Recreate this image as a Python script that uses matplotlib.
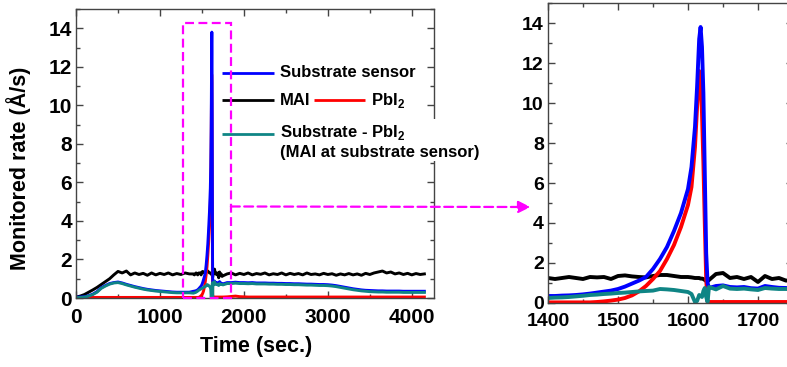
"""Deposition monitor: full run plus a zoom on the PbI2 burst."""
import matplotlib
matplotlib.use("Agg")
import matplotlib.pyplot as plt
import numpy as np
from matplotlib.patches import Rectangle, ConnectionPatch
from matplotlib.ticker import MultipleLocator

plt.rcParams["font.family"] = ["Liberation Sans", "DejaVu Sans"]
plt.rcParams["font.weight"] = "bold"
plt.rcParams["mathtext.fontset"] = "custom"
plt.rcParams["mathtext.rm"] = "Liberation Sans:bold"

BLUE, BLACK, RED, TEAL, MAG = "#0000ff", "#000000", "#ff0000", "#0f8585", "#ff00ff"

# ---- full run, before and after the burst window (50 s sampling)
T_EARLY = np.arange(0, 1351, 50)
T_LATE = np.arange(1800, 4151, 50)

MAI_EARLY = [0.05, 0.1, 0.18, 0.3, 0.42, 0.55, 0.7, 0.85, 1.0, 1.2, 1.38, 1.3, 1.4, 1.2,
             1.3, 1.22, 1.28, 1.18, 1.3, 1.2, 1.28, 1.22, 1.3, 1.2, 1.27, 1.22, 1.3, 1.25]
MAI_LATE = [1.25, 1.3, 1.2, 1.28, 1.22, 1.3, 1.2, 1.27, 1.23, 1.3, 1.2, 1.26, 1.22, 1.3,
            1.2, 1.28, 1.22, 1.27, 1.2, 1.3, 1.22, 1.25, 1.2, 1.28, 1.22, 1.26, 1.18, 1.25,
            1.2, 1.27, 1.2, 1.25, 1.18, 1.28, 1.22, 1.3, 1.35, 1.4, 1.3, 1.35, 1.25, 1.3,
            1.22, 1.28, 1.2, 1.27, 1.22, 1.25]
SUB_EARLY = [0.05, 0.05, 0.07, 0.12, 0.2, 0.33, 0.53, 0.65, 0.75, 0.8, 0.83, 0.78, 0.71,
             0.65, 0.59, 0.54, 0.49, 0.45, 0.42, 0.39, 0.37, 0.35, 0.33, 0.31, 0.3, 0.3,
             0.3, 0.3]
SUB_LATE = [0.8, 0.8, 0.82, 0.8, 0.8, 0.79, 0.8, 0.78, 0.78, 0.78, 0.77, 0.77, 0.76, 0.76,
            0.75, 0.75, 0.74, 0.74, 0.73, 0.72, 0.72, 0.71, 0.7, 0.7, 0.69, 0.67, 0.64,
            0.6, 0.56, 0.52, 0.48, 0.45, 0.42, 0.4, 0.39, 0.38, 0.37, 0.37, 0.36, 0.36,
            0.36, 0.36, 0.35, 0.35, 0.35, 0.35, 0.35, 0.35]
DIFF_EARLY = [0.02, 0.03, 0.05, 0.1, 0.18, 0.3, 0.5, 0.62, 0.72, 0.78, 0.8, 0.75, 0.68,
              0.62, 0.56, 0.51, 0.46, 0.42, 0.39, 0.36, 0.34, 0.32, 0.3, 0.28, 0.27, 0.27,
              0.27, 0.27]
DIFF_LATE = [0.75, 0.75, 0.77, 0.75, 0.75, 0.74, 0.75, 0.73, 0.73, 0.73, 0.72, 0.72, 0.71,
             0.71, 0.7, 0.7, 0.69, 0.69, 0.68, 0.67, 0.67, 0.66, 0.65, 0.65, 0.64, 0.62,
             0.59, 0.55, 0.51, 0.47, 0.43, 0.4, 0.37, 0.35, 0.33, 0.32, 0.31, 0.31, 0.3,
             0.3, 0.3, 0.3, 0.29, 0.29, 0.29, 0.29, 0.29, 0.29]
PBI_EARLY = [0.0, 0.01, 0.02, 0.03, 0.03, 0.03, 0.03, 0.03, 0.03, 0.03, 0.03, 0.03, 0.03,
             0.03, 0.03, 0.03, 0.03, 0.03, 0.03, 0.03, 0.03, 0.03, 0.03, 0.03, 0.03, 0.03,
             0.03, 0.03]
PBI_LATE = [0.06, 0.08, 0.1, 0.07, 0.06, 0.05, 0.05, 0.05, 0.05, 0.05, 0.05, 0.05, 0.05,
            0.05, 0.05, 0.05, 0.05, 0.05, 0.05, 0.05, 0.05, 0.05, 0.05, 0.05, 0.05, 0.05,
            0.05, 0.05, 0.05, 0.05, 0.05, 0.05, 0.05, 0.05, 0.05, 0.05, 0.05, 0.05, 0.05,
            0.05, 0.05, 0.05, 0.05, 0.05, 0.05, 0.05, 0.05, 0.05]

# ---- burst window 1400-1750 s (finer sampling round the peak)
T_ZOOM = [1400, 1410, 1420, 1430, 1440, 1450, 1460, 1470, 1480, 1490, 1500, 1510, 1520,
          1530, 1540, 1550, 1560, 1570, 1580, 1590, 1600, 1605, 1610, 1613, 1616, 1618,
          1620, 1622, 1624, 1626, 1628, 1630, 1640, 1650, 1660, 1670, 1680, 1690, 1700,
          1710, 1720, 1730, 1740, 1750]
SUB_ZOOM = [0.35, 0.35, 0.37, 0.38, 0.4, 0.43, 0.47, 0.52, 0.57, 0.62, 0.7, 0.82, 0.97,
            1.12, 1.3, 1.7, 2.2, 2.8, 3.6, 4.5, 5.7, 6.8, 8.8, 10.8, 13.2, 13.8, 12.8, 10.5,
            6.5, 2.5, 1.0, 0.75, 0.85, 0.88, 0.8, 0.78, 0.8, 0.74, 0.72, 0.85, 0.8, 0.76,
            0.75, 0.73]
PBI_ZOOM = [0.03, 0.03, 0.03, 0.03, 0.03, 0.03, 0.03, 0.05, 0.08, 0.12, 0.17, 0.25, 0.38,
            0.58, 0.85, 1.2, 1.6, 2.2, 2.9, 3.8, 4.9, 5.8, 7.8, 9.8, 11.6, 11.2, 9.5, 7.0,
            4.0, 1.2, 0.05, 0.05, 0.05, 0.05, 0.05, 0.05, 0.05, 0.05, 0.05, 0.05, 0.05,
            0.05, 0.05, 0.05]
DIFF_ZOOM = [0.25, 0.27, 0.28, 0.3, 0.33, 0.36, 0.4, 0.42, 0.45, 0.47, 0.5, 0.52, 0.55,
             0.58, 0.6, 0.62, 0.7, 0.68, 0.65, 0.6, 0.55, 0.45, 0.05, 0.1, 0.4, 0.35, 0.3,
             0.6, 0.75, 0.3, 0.05, 0.8, 0.68, 0.85, 0.72, 0.7, 0.72, 0.68, 0.65, 0.75, 0.72,
             0.7, 0.7, 0.68]
MAI_ZOOM = [1.25, 1.2, 1.25, 1.3, 1.25, 1.2, 1.3, 1.28, 1.3, 1.2, 1.35, 1.38, 1.33, 1.3,
            1.28, 1.35, 1.4, 1.4, 1.35, 1.3, 1.3, 1.28, 1.25, 1.25, 1.25, 1.22, 1.22, 1.2,
            1.15, 1.1, 1.08, 1.15, 1.45, 1.5, 1.25, 1.3, 1.2, 1.3, 1.05, 1.35, 1.2, 1.25,
            1.12, 1.15]

WINDOW = (1274, 1845, 14.27)   # highlighted region on the full-run panel


def full(early, zoom, late):
    return np.concatenate([early, zoom, late])


def style(ax, xmaj, xmin, size):
    ax.set_ylim(0, 15)
    ax.yaxis.set_major_locator(MultipleLocator(2))
    ax.yaxis.set_minor_locator(MultipleLocator(1))
    ax.xaxis.set_major_locator(MultipleLocator(xmaj))
    ax.xaxis.set_minor_locator(MultipleLocator(xmin))
    ax.tick_params(which="both", direction="in", top=True, right=True,
                   labelsize=size, width=1, color="#444444")
    ax.tick_params(which="major", length=5)
    ax.tick_params(which="minor", length=3)
    ax.tick_params(axis="x", pad=7)
    ax.tick_params(axis="y", pad=3)
    for s in ax.spines.values():
        s.set_color("#444444")
        s.set_linewidth(1)
    for lb in ax.get_xticklabels() + ax.get_yticklabels():
        lb.set_fontweight("bold")


fig = plt.figure(figsize=(7.87, 3.67), dpi=100)
ax1 = fig.add_axes([0.0966, 0.188, 0.4549, 0.7875])
ax2 = fig.add_axes([0.6963, 0.1744, 0.3113, 0.8174])

t_all = full(T_EARLY, T_ZOOM, T_LATE)
series = [(MAI_EARLY, MAI_ZOOM, MAI_LATE, BLACK),
          (PBI_EARLY, PBI_ZOOM, PBI_LATE, RED),
          (SUB_EARLY, SUB_ZOOM, SUB_LATE, BLUE),
          (DIFF_EARLY, DIFF_ZOOM, DIFF_LATE, TEAL)]
for early, zoom, late, c in series:
    ax1.plot(t_all, full(early, zoom, late), color=c, lw=2.1)
    ax2.plot(T_ZOOM, zoom, color=c, lw=2.8)

ax1.set_xlim(0, 4265)
style(ax1, 1000, 500, 15)
ax1.set_xlabel("Time (sec.)", fontsize=15.5, fontweight="bold")
ax1.set_ylabel("Monitored rate (Å/s)", fontsize=15.5, fontweight="bold")
ax1.xaxis.set_label_coords(0.503, -0.13)
ax1.yaxis.set_label_coords(-0.125, 0.45)

ax2.set_xlim(1400, 1750)
style(ax2, 100, 50, 14)
ax2.spines["right"].set_visible(False)

# dashed window on the full run and the arrow to the zoom panel
x0, x1, ytop = WINDOW
ax1.add_patch(Rectangle((x0, 0), x1 - x0, ytop, fill=False, ec=MAG, lw=1.6,
                        ls=(0, (4, 2)), clip_on=False, zorder=5))
arrow = ConnectionPatch(xyA=(x1, 4.75), coordsA=ax1.transData,
                        xyB=(1375, 4.8), coordsB=ax2.transData,
                        arrowstyle="-|>,head_length=0.6,head_width=0.3",
                        color=MAG, lw=1.6, ls=(0, (4, 2)), mutation_scale=12)
fig.add_artist(arrow)

# hand-placed legend
tr = ax1.transAxes
kw = dict(transform=tr, clip_on=False, lw=2, solid_capstyle="butt")
ax1.plot([0.408, 0.553], [0.779, 0.779], color=BLUE, **kw)
ax1.plot([0.408, 0.553], [0.685, 0.685], color=BLACK, **kw)
ax1.plot([0.665, 0.807], [0.685, 0.685], color=RED, **kw)
ax1.plot([0.408, 0.553], [0.567, 0.567], color=TEAL, **kw)
tkw = dict(transform=tr, fontsize=12, fontweight="bold", va="center", ha="left")
ax1.text(0.570, 0.779, "Substrate sensor", **tkw)
ax1.text(0.570, 0.685, "MAI", **tkw)
ax1.text(0.824, 0.685, r"PbI$_\mathregular{2}$", **tkw)
ax1.text(0.570, 0.607, "Substrate - PbI$_\\mathregular{2}$\n(MAI at substrate sensor)",
         transform=tr, fontsize=12, fontweight="bold", va="top", ha="left",
         linespacing=1.25, zorder=6, bbox=dict(fc="white", ec="none", pad=1))

fig.savefig("out.png", dpi=100)
